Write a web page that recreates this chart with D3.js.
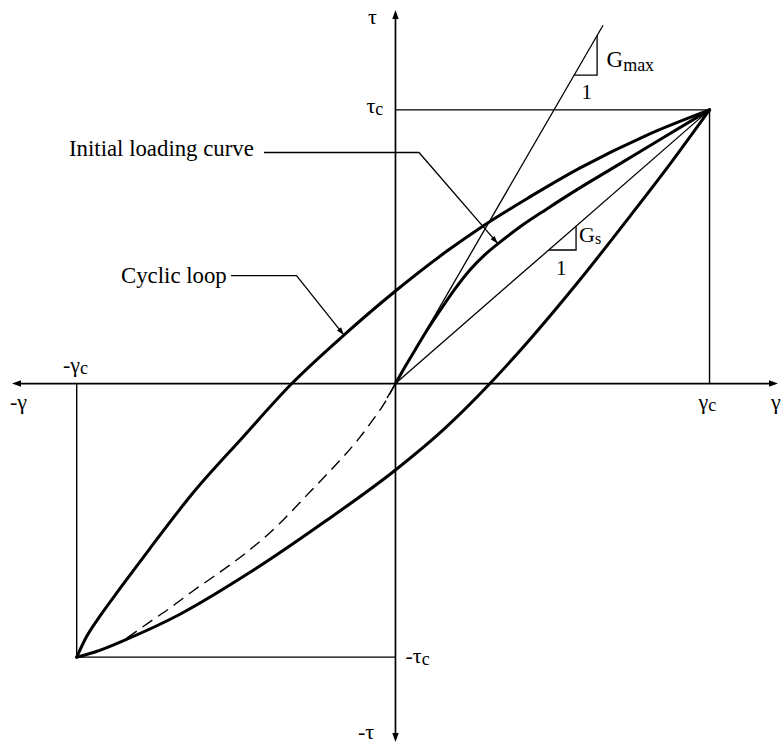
<!DOCTYPE html>
<html>
<head>
<meta charset="utf-8">
<script src="https://cdn.jsdelivr.net/npm/d3@7"></script>
<style>
  html, body { margin: 0; padding: 0; background: #fff; }
  svg { display: block; }
  text { font-family: "Liberation Serif", "Times New Roman", serif; fill: #000; }
</style>
</head>
<body>
<svg id="chart" width="782" height="744"></svg>
<script>
// Shear strain γ (in units of γc) and shear stress τ (in units of τc)
const peakPoint   = [1.0, 1.0];        // (γc, τc)
const troughPoint = [-1.015, -1.0];    // (-γc, -τc)

// Cyclic loop, upper (unloading) branch
const upperGamma = [-1.015, -0.986, -0.941, -0.877, -0.782, -0.645, -0.486, -0.330, -0.167, 0.000, 0.164, 0.279, 0.428, 0.588, 0.801, 1.000];
const upperTau   = [-1.000, -0.930, -0.850, -0.749, -0.603, -0.400, -0.196,  0.000,  0.174, 0.338, 0.484, 0.576, 0.682, 0.788, 0.908, 1.000];

// Cyclic loop, lower (reloading) branch
const lowerGamma = [-1.015, -0.957, -0.855, -0.686, -0.463, -0.218,  0.000,  0.158, 0.301, 0.428, 0.588, 0.747, 0.874, 1.000];
const lowerTau   = [-1.000, -0.981, -0.934, -0.843, -0.690, -0.499, -0.316, -0.163, 0.000, 0.161, 0.380, 0.612, 0.802, 1.000];

// Initial loading curve, positive side
const initGamma = [0.000, 0.030, 0.062, 0.100, 0.142, 0.189, 0.237, 0.285, 0.333, 0.396, 0.482, 0.587, 0.693, 0.852, 1.000];
const initTau   = [0.000, 0.060, 0.122, 0.194, 0.267, 0.345, 0.415, 0.471, 0.517, 0.572, 0.638, 0.715, 0.788, 0.898, 1.000];

// Initial loading curve, negative side (dashed), joining the lower branch
const negInitGamma = [-0.855, -0.782, -0.709, -0.645, -0.581, -0.473, -0.377, -0.288, -0.218, -0.161, -0.113, -0.072, -0.033, 0.000];
const negInitTau   = [-0.930, -0.871, -0.813, -0.758, -0.707, -0.616, -0.521, -0.415, -0.331, -0.261, -0.196, -0.133, -0.068, 0.000];

// Moduli: small-strain (Gmax) and secant (Gs)
const moduli = { Gmax: 1.981, Gs: 1.0 };
const gmaxRange = [-0.027, 0.661];

// Axis extents
const gammaDomain = [-1.221, 1.218];
const tauDomain   = [1.365, -1.310];

const svg = d3.select("#chart");

const x = d3.scaleLinear().domain(gammaDomain).range([12, 778]);
const y = d3.scaleLinear().domain(tauDomain).range([10, 742]);

const x0 = x(0), y0 = y(0);

const zip = (g, t) => g.map((v, i) => [v, t[i]]);
const smooth = d3.line().x(d => x(d[0])).y(d => y(d[1])).curve(d3.curveMonotoneX);
const straight = d3.line().x(d => x(d[0])).y(d => y(d[1]));

// ---- guide lines to the peak points
const guides = svg.append("g").attr("stroke", "#000").attr("stroke-width", 1.4).attr("fill", "none");
guides.append("path").attr("d", straight([[0, peakPoint[1]], peakPoint, [peakPoint[0], 0]]));
guides.append("path").attr("d", straight([[troughPoint[0], 0], troughPoint, [0, troughPoint[1]]]));

// ---- axes with filled arrowheads
const axes = svg.append("g");
axes.append("line").attr("x1", x(gammaDomain[0]) + 4).attr("x2", x(gammaDomain[1]) - 4)
  .attr("y1", y0).attr("y2", y0).attr("stroke", "#000").attr("stroke-width", 1.7);
axes.append("line").attr("y1", y(tauDomain[0]) + 4).attr("y2", y(tauDomain[1]) - 4)
  .attr("x1", x0).attr("x2", x0).attr("stroke", "#000").attr("stroke-width", 1.7);

function arrowHead(tipX, tipY, dx, dy, len, half) {
  // dx, dy: unit vector of the direction the arrow points to
  const bx = tipX - dx * len, by = tipY - dy * len;
  const px = -dy, py = dx;
  return `M${tipX},${tipY}L${bx + px * half},${by + py * half}L${bx - px * half},${by - py * half}Z`;
}
const heads = [
  [x(gammaDomain[1]), y0, 1, 0],
  [x(gammaDomain[0]), y0, -1, 0],
  [x0, y(tauDomain[0]), 0, -1],
  [x0, y(tauDomain[1]), 0, 1]
];
axes.selectAll("path.head").data(heads).join("path").attr("class", "head")
  .attr("d", d => arrowHead(d[0], d[1], d[2], d[3], 9, 3.2)).attr("fill", "#000");

// ---- modulus lines
const thin = svg.append("g").attr("stroke", "#000").attr("stroke-width", 1.3).attr("fill", "none");
thin.append("path").attr("d", straight(gmaxRange.map(g => [g, moduli.Gmax * g])));
thin.append("path").attr("d", straight([[0, 0], [1, moduli.Gs]]));

// slope triangles
function slopeTriangle(G, g0, g1) {
  const t0 = G * g0, t1 = G * g1;
  return straight([[g0, t0], [g1, t0], [g1, t1]]);
}
thin.append("path").attr("d", slopeTriangle(moduli.Gmax, 0.569, 0.642));
thin.append("path").attr("d", slopeTriangle(moduli.Gs, 0.488, 0.575));

// ---- curves
const curves = svg.append("g").attr("fill", "none").attr("stroke", "#000")
  .attr("stroke-linecap", "round").attr("stroke-linejoin", "round");
curves.append("path").attr("d", smooth(zip(negInitGamma, negInitTau)))
  .attr("stroke-width", 1.4).attr("stroke-dasharray", "12,7").attr("stroke-linecap", "butt");
curves.append("path").attr("d", smooth(zip(upperGamma, upperTau))).attr("stroke-width", 3);
curves.append("path").attr("d", smooth(zip(lowerGamma, lowerTau))).attr("stroke-width", 3);
curves.append("path").attr("d", smooth(zip(initGamma, initTau))).attr("stroke-width", 3);

// ---- leader lines with arrowheads
function leader(startX, elbowX, yLevel, target) {
  const tx = x(target[0]), ty = y(target[1]);
  const g = svg.append("g");
  g.append("path").attr("d", `M${startX},${yLevel}H${elbowX}L${tx},${ty}`)
    .attr("fill", "none").attr("stroke", "#000").attr("stroke-width", 1.3);
  const len = Math.hypot(tx - elbowX, ty - yLevel);
  g.append("path").attr("d", arrowHead(tx, ty, (tx - elbowX) / len, (ty - yLevel) / len, 8, 2.6))
    .attr("fill", "#000");
}
leader(264, 419, 152.5, [0.326, 0.511]);
leader(231, 296.5, 275.7, [-0.164, 0.177]);

// ---- text labels
const labels = svg.append("g");
function label(px, py, main, sub, size, subSize, subDy) {
  const t = labels.append("text").attr("x", px).attr("y", py).attr("font-size", size);
  t.append("tspan").text(main);
  if (sub) t.append("tspan").attr("font-size", subSize).attr("dy", subDy).text(sub);
  return t;
}
label(69, 156, "Initial loading curve", null, 22.8);
label(121, 282.5, "Cyclic loop", null, 22.8);

label(368, 24, "τ", null, 22);
label(366.5, 113, "τ", "c", 22, 18, 2);
label(x0 + 10, 663, "-τ", "c", 22, 18, 2);
label(358, 739, "-τ", null, 22);

label(63, 372, "-γ", "c", 22, 18, 2);
label(10, 409, "-γ", null, 22);
label(x(peakPoint[0]) - 11, 409, "γ", "c", 22, 18, 2);
label(771, 409, "γ", null, 22);

label(606.5, 66.5, "G", "max", 23, 18, 4.5);
label(581.5, 99, "1", null, 21);
label(579, 241.5, "G", "s", 22, 16, 2);
label(556, 275, "1", null, 21);
</script>
</body>
</html>
